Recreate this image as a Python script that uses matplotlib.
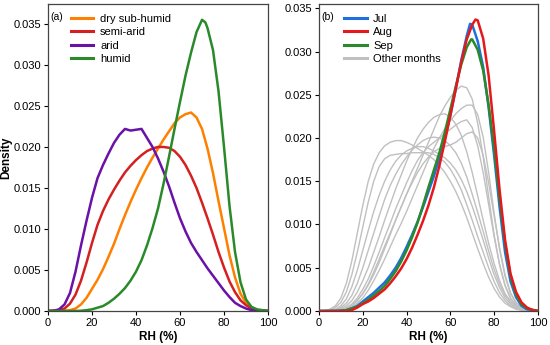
import matplotlib.pyplot as plt

plt.rcParams['font.family'] = ['Liberation Sans', 'DejaVu Sans']

# ---- panel (a): climate zones (KDE curves) ----
x_arid = [0, 2.5, 5, 7.5, 10, 12.5, 15, 17.5, 20, 22.5, 25, 27.5, 30, 32.5, 35, 37.5, 40, 42.5,
          45, 47.5, 50, 52.5, 55, 57.5, 60, 62.5, 65, 67.5, 70, 72.5, 75, 77.5, 80, 82.5, 85,
          87.5, 90, 92.5, 95, 100]
arid = [0, 0.00002, 0.0002, 0.0008, 0.0022, 0.0048, 0.0080, 0.0110, 0.0138, 0.0162, 0.0178,
        0.0192, 0.0205, 0.0215, 0.0222, 0.0220, 0.0221, 0.0222, 0.0211, 0.0200, 0.0186, 0.0170,
        0.0152, 0.0132, 0.0113, 0.0097, 0.0083, 0.0072, 0.0062, 0.0052, 0.0043, 0.0034, 0.0025,
        0.0017, 0.0010, 0.0006, 0.0003, 0.0001, 0.00003, 0]

x_semi = [0, 5, 7.5, 10, 12.5, 15, 17.5, 20, 22.5, 25, 27.5, 30, 32.5, 35, 37.5, 40, 42.5, 45,
          47.5, 50, 52.5, 55, 57.5, 60, 62.5, 65, 67.5, 70, 72.5, 75, 77.5, 80, 82.5, 85, 87.5,
          90, 92.5, 95, 100]
semi_arid = [0, 0.0001, 0.0003, 0.0009, 0.0020, 0.0037, 0.0059, 0.0083, 0.0105, 0.0122, 0.0136,
             0.0148, 0.0159, 0.0169, 0.0177, 0.0184, 0.0190, 0.0195, 0.0198, 0.0200, 0.0200,
             0.0199, 0.0195, 0.0188, 0.0178, 0.0165, 0.0150, 0.0132, 0.0113, 0.0093, 0.0072,
             0.0053, 0.0036, 0.0023, 0.0013, 0.0007, 0.0003, 0.0001, 0]

x_dry = [0, 7.5, 10, 12.5, 15, 17.5, 20, 22.5, 25, 27.5, 30, 32.5, 35, 37.5, 40, 42.5, 45, 47.5,
         50, 52.5, 55, 57.5, 60, 62.5, 65, 67.5, 70, 72.5, 75, 77.5, 80, 82.5, 85, 87.5, 90,
         92.5, 95, 100]
dry_sub_humid = [0, 0.00003, 0.0001, 0.0003, 0.0008, 0.0016, 0.0027, 0.0038, 0.0051, 0.0066,
                 0.0082, 0.0100, 0.0117, 0.0133, 0.0148, 0.0162, 0.0175, 0.0187, 0.0198, 0.0209,
                 0.0219, 0.0229, 0.0236, 0.0240, 0.0242, 0.0236, 0.0222, 0.0198, 0.0168, 0.0134,
                 0.0101, 0.0068, 0.0041, 0.0021, 0.0010, 0.0004, 0.0001, 0]

x_hum = [0, 12.5, 15, 17.5, 20, 22.5, 25, 27.5, 30, 32.5, 35, 37.5, 40, 42.5, 45, 47.5, 50, 52.5,
         55, 57.5, 60, 62.5, 65, 67.5, 70, 71.5, 72.5, 75, 77.5, 80, 82.5, 85, 87.5, 90, 92.5,
         95, 100]
humid = [0, 0, 0.00003, 0.0001, 0.0002, 0.0004, 0.0006, 0.0010, 0.0015, 0.0021, 0.0028, 0.0037,
         0.0048, 0.0062, 0.0080, 0.0101, 0.0125, 0.0155, 0.0188, 0.0222, 0.0255, 0.0287, 0.0315,
         0.0340, 0.0355, 0.0352, 0.0345, 0.0318, 0.0268, 0.0200, 0.0128, 0.0072, 0.0035, 0.0014,
         0.0005, 0.0002, 0]

# ---- panel (b): months ----
x_jul = [0, 7.5, 10, 12.5, 15, 17.5, 20, 22.5, 25, 27.5, 30, 32.5, 35, 37.5, 40, 42.5, 45, 47.5,
         50, 52.5, 55, 57.5, 60, 62.5, 65, 67.5, 69, 70, 72.5, 75, 77.5, 80, 82.5, 85, 87.5, 90,
         92.5, 95, 100]
jul = [0, 0, 0.00003, 0.0001, 0.0003, 0.0006, 0.0011, 0.0016, 0.0021, 0.0027, 0.0033, 0.0041,
       0.0050, 0.0061, 0.0074, 0.0088, 0.0103, 0.0120, 0.0138, 0.0156, 0.0177, 0.0200, 0.0226,
       0.0257, 0.0290, 0.0318, 0.0332, 0.0331, 0.0312, 0.0282, 0.0235, 0.0180, 0.0120, 0.0068,
       0.0034, 0.0016, 0.0006, 0.0002, 0]

x_aug = [0, 12.5, 15, 17.5, 20, 22.5, 25, 27.5, 30, 32.5, 35, 37.5, 40, 42.5, 45, 47.5, 50, 52.5,
         55, 57.5, 60, 62.5, 65, 67.5, 70, 71.5, 72.5, 75, 77.5, 80, 82.5, 85, 87.5, 90, 92.5, 95,
         97.5, 100]
aug = [0, 0, 0.0001, 0.0004, 0.0008, 0.0011, 0.0015, 0.0020, 0.0025, 0.0032, 0.0040, 0.0049,
       0.0060, 0.0073, 0.0088, 0.0104, 0.0122, 0.0143, 0.0168, 0.0196, 0.0226, 0.0257, 0.0288,
       0.0314, 0.0331, 0.0337, 0.0336, 0.0315, 0.0272, 0.0208, 0.0140, 0.0082, 0.0043, 0.0022,
       0.0010, 0.0004, 0.0001, 0]

x_sep = [0, 7.5, 10, 12.5, 15, 17.5, 20, 22.5, 25, 27.5, 30, 32.5, 35, 37.5, 40, 42.5, 45, 47.5,
         50, 52.5, 55, 57.5, 60, 62.5, 65, 67.5, 69.5, 70, 72.5, 75, 77.5, 80, 82.5, 85, 87.5, 90,
         92.5, 95, 100]
sep = [0, 0, 0.00003, 0.0001, 0.0003, 0.0005, 0.0009, 0.0013, 0.0018, 0.0023, 0.0029, 0.0037,
       0.0046, 0.0057, 0.0070, 0.0085, 0.0102, 0.0122, 0.0143, 0.0163, 0.0183, 0.0207, 0.0233,
       0.0260, 0.0285, 0.0305, 0.0314, 0.0314, 0.0302, 0.0278, 0.0238, 0.0188, 0.0130, 0.0078,
       0.0040, 0.0019, 0.0008, 0.0003, 0]

rh = [i * 2.5 for i in range(41)]
other_months = [
    [0, 0.00003, 0.0002, 0.0006, 0.0015, 0.0032, 0.0058, 0.0090, 0.0122, 0.0150, 0.0170, 0.0183,
     0.0191, 0.0195, 0.0197, 0.0197, 0.0195, 0.0192, 0.0188, 0.0184, 0.0180, 0.0175, 0.0168,
     0.0160, 0.0150, 0.0138, 0.0124, 0.0108, 0.0090, 0.0072, 0.0055, 0.0039, 0.0026, 0.0016,
     0.0009, 0.0005, 0.0002, 0.0001, 0, 0, 0],
    [0, 0.00002, 0.0001, 0.0004, 0.0010, 0.0022, 0.0042, 0.0068, 0.0097, 0.0126, 0.0150, 0.0167,
     0.0176, 0.0180, 0.0181, 0.0182, 0.0182, 0.0183, 0.0183, 0.0183, 0.0183, 0.0181, 0.0177,
     0.0172, 0.0164, 0.0153, 0.0140, 0.0123, 0.0105, 0.0086, 0.0068, 0.0050, 0.0034, 0.0021,
     0.0012, 0.0006, 0.0003, 0.0001, 0.00003, 0, 0],
    [0, 0, 0.00005, 0.0002, 0.0006, 0.0014, 0.0028, 0.0047, 0.0070, 0.0093, 0.0115, 0.0134,
     0.0150, 0.0163, 0.0173, 0.0180, 0.0185, 0.0188, 0.0190, 0.0190, 0.0188, 0.0185, 0.0181,
     0.0177, 0.0171, 0.0163, 0.0152, 0.0138, 0.0121, 0.0102, 0.0082, 0.0061, 0.0042, 0.0027,
     0.0015, 0.0008, 0.0004, 0.0001, 0.00003, 0, 0],
    [0, 0, 0.00003, 0.0001, 0.0004, 0.0009, 0.0018, 0.0032, 0.0050, 0.0070, 0.0090, 0.0110,
     0.0129, 0.0145, 0.0158, 0.0169, 0.0178, 0.0186, 0.0192, 0.0197, 0.0200, 0.0201, 0.0200,
     0.0197, 0.0191, 0.0183, 0.0171, 0.0155, 0.0135, 0.0114, 0.0092, 0.0069, 0.0048, 0.0031,
     0.0018, 0.0010, 0.0005, 0.0002, 0.00005, 0, 0],
    [0, 0, 0.00002, 0.0001, 0.0003, 0.0006, 0.0012, 0.0022, 0.0035, 0.0050, 0.0068, 0.0086,
     0.0105, 0.0123, 0.0141, 0.0157, 0.0173, 0.0187, 0.0200, 0.0210, 0.0218, 0.0224, 0.0227,
     0.0228, 0.0224, 0.0216, 0.0203, 0.0184, 0.0160, 0.0133, 0.0105, 0.0078, 0.0055, 0.0035,
     0.0020, 0.0011, 0.0005, 0.0002, 0.00005, 0, 0],
    [0, 0, 0.00002, 0.00005, 0.0001, 0.0003, 0.0006, 0.0012, 0.0020, 0.0031, 0.0045, 0.0060,
     0.0075, 0.0090, 0.0105, 0.0120, 0.0135, 0.0150, 0.0165, 0.0180, 0.0195, 0.0210, 0.0225,
     0.0237, 0.0247, 0.0255, 0.0260, 0.0258, 0.0245, 0.0217, 0.0178, 0.0132, 0.0088, 0.0053,
     0.0029, 0.0014, 0.0006, 0.0002, 0.0001, 0, 0],
    [0, 0, 0.00001, 0.00004, 0.0001, 0.0002, 0.0005, 0.0009, 0.0015, 0.0024, 0.0035, 0.0047,
     0.0060, 0.0074, 0.0088, 0.0101, 0.0115, 0.0130, 0.0145, 0.0160, 0.0175, 0.0188, 0.0200,
     0.0211, 0.0220, 0.0228, 0.0234, 0.0238, 0.0238, 0.0227, 0.0201, 0.0160, 0.0113, 0.0071,
     0.0040, 0.0020, 0.0009, 0.0003, 0.0001, 0, 0],
    [0, 0, 0.00001, 0.00005, 0.0002, 0.0004, 0.0008, 0.0015, 0.0025, 0.0037, 0.0052, 0.0068,
     0.0085, 0.0101, 0.0118, 0.0133, 0.0148, 0.0162, 0.0174, 0.0183, 0.0190, 0.0195, 0.0200,
     0.0205, 0.0210, 0.0215, 0.0219, 0.0221, 0.0212, 0.0191, 0.0160, 0.0123, 0.0086, 0.0054,
     0.0030, 0.0015, 0.0007, 0.0002, 0.0001, 0, 0],
    [0, 0, 0.00001, 0.00004, 0.0001, 0.0003, 0.0006, 0.0012, 0.0020, 0.0030, 0.0042, 0.0056,
     0.0072, 0.0088, 0.0105, 0.0120, 0.0135, 0.0148, 0.0160, 0.0170, 0.0178, 0.0184, 0.0188,
     0.0190, 0.0192, 0.0195, 0.0200, 0.0205, 0.0207, 0.0200, 0.0180, 0.0148, 0.0110, 0.0073,
     0.0042, 0.0021, 0.0010, 0.0004, 0.0001, 0, 0],
]

fig = plt.figure(figsize=(5.5, 3.45), dpi=100)
ax1 = fig.add_axes([0.0873, 0.0986, 0.4, 0.89])
ax2 = fig.add_axes([0.58, 0.0986, 0.398, 0.89])

lw = 1.8
ax1.plot(x_dry, dry_sub_humid, color='#ff8000', lw=lw, label='dry sub-humid')
ax1.plot(x_semi, semi_arid, color='#d42020', lw=lw, label='semi-arid')
ax1.plot(x_arid, arid, color='#6a12a8', lw=lw, label='arid')
ax1.plot(x_hum, humid, color='#2a8a2a', lw=lw, label='humid')
ax1.set_ylim(0, 0.03744)
ax1.set_ylabel('Density', fontsize=8.5, fontweight='bold', labelpad=1)

for i, g in enumerate(other_months):
    ax2.plot(rh, g, color='#c0c0c0', lw=1.0, label='Other months' if i == 0 else None, zorder=1)
ax2.plot(x_jul, jul, color='#1f6fe0', lw=lw, label='Jul', zorder=3)
ax2.plot(x_aug, aug, color='#e5191c', lw=lw, label='Aug', zorder=4)
ax2.plot(x_sep, sep, color='#2a8a2a', lw=lw, label='Sep', zorder=3)
ax2.set_ylim(0, 0.0355)

h, l = ax2.get_legend_handles_labels()
order = [l.index('Jul'), l.index('Aug'), l.index('Sep'), l.index('Other months')]
leg2 = ax2.legend([h[i] for i in order], [l[i] for i in order], loc='upper left',
                  bbox_to_anchor=(0.07, 1.0), frameon=False, fontsize=8,
                  handlelength=2.0, handletextpad=0.6, labelspacing=0.3)
leg1 = ax1.legend(loc='upper left', bbox_to_anchor=(0.06, 1.0), frameon=False, fontsize=8,
                  handlelength=2.0, handletextpad=0.6, labelspacing=0.3)
for leg in (leg1, leg2):
    for lh in leg.get_lines():
        lh.set_linewidth(2.2)

for ax, tag in [(ax1, '(a)'), (ax2, '(b)')]:
    ax.set_xlim(0, 100)
    ax.set_xticks([0, 20, 40, 60, 80, 100])
    ax.set_yticks([0, 0.005, 0.010, 0.015, 0.020, 0.025, 0.030, 0.035])
    ax.yaxis.set_major_formatter(plt.FormatStrFormatter('%.3f'))
    ax.tick_params(labelsize=8, length=3, width=0.8, pad=2)
    ax.set_xlabel('RH (%)', fontsize=8.5, fontweight='bold', labelpad=2)
    for s in ax.spines.values():
        s.set_color('#444444')
        s.set_linewidth(0.9)
    ax.text(0.012, 0.975, tag, transform=ax.transAxes, fontsize=7.5, va='top', ha='left')

fig.savefig('out.png', dpi=100)
